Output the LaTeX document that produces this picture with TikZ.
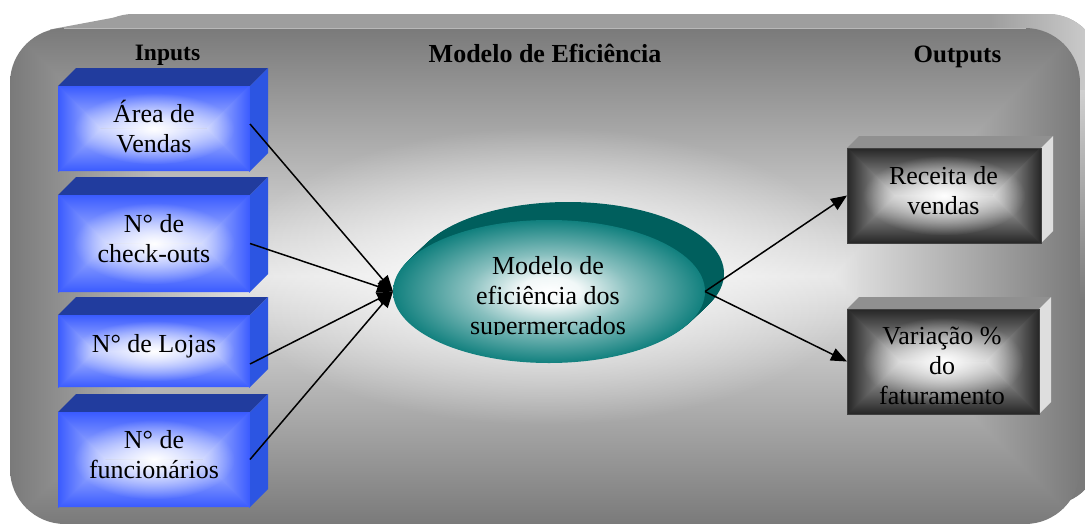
\documentclass[tikz,border=0pt]{standalone}
\usepackage{fontspec}
\setmainfont{Liberation Serif}
\usetikzlibrary{arrows.meta,shapes.geometric,fadings}
\definecolor{frameedge}{HTML}{7A7A7A}
\definecolor{framecenter}{HTML}{E6E6E6}
\definecolor{band}{HTML}{9E9E9E}
\definecolor{bandlight}{HTML}{D0D0D0}
\definecolor{blueedge}{HTML}{3A5BFF}
\definecolor{bluemid}{HTML}{B4C1FF}
\definecolor{bluetop}{HTML}{213C9E}
\definecolor{blueright}{HTML}{2C55E2}
\definecolor{tealedge}{HTML}{11807E}
\definecolor{tealback}{HTML}{005F5D}
\definecolor{grayedge}{HTML}{262626}
\definecolor{graymid}{HTML}{BDBDBD}
\definecolor{graytop}{HTML}{909090}
\definecolor{grayright}{HTML}{DEDEDE}

\tikzfading[name=glowfade, inner color=transparent!0, outer color=transparent!100]
\pgfdeclareradialshading{tealglow}{\pgfpoint{0bp}{0bp}}{color(0bp)=(white); color(5bp)=(white!94!tealedge); color(13bp)=(white!50!tealedge); color(25bp)=(tealedge); color(50bp)=(tealedge)}

% rectangular "path" gradient: edge colour at the border, centre colour on the centre line,
% plus a soft white glow in the middle
\newcommand\rectgrad[8]{%
  \pgfmathsetmacro\rgd{min(#3-#1,#4-#2)/2}%
  \pgfmathsetmacro\rgxa{#1+\rgd}%
  \pgfmathsetmacro\rgxb{#3-\rgd}%
  \pgfmathsetmacro\rgya{#2+\rgd}%
  \pgfmathsetmacro\rgyb{#4-\rgd}%
  \begin{scope}
    \clip (#1,#2) rectangle (#3,#4);
    \shade[top color=#5,bottom color=#6] (#1,#2) -- (#3,#2) -- (\rgxb,\rgya) -- (\rgxa,\rgya) -- cycle;
    \shade[top color=#6,bottom color=#5] (#1,#4) -- (#3,#4) -- (\rgxb,\rgyb) -- (\rgxa,\rgyb) -- cycle;
    \shade[left color=#5,right color=#6] (#1,{#2-1.2}) -- (\rgxa,{\rgya-1.2}) -- (\rgxa,{\rgyb+1.2}) -- (#1,{#4+1.2}) -- cycle;
    \shade[left color=#6,right color=#5] (#3,{#2-1.2}) -- (\rgxb,{\rgya-1.2}) -- (\rgxb,{\rgyb+1.2}) -- (#3,{#4+1.2}) -- cycle;
    \fill[white, path fading=glowfade] ({(#1+#3)/2},{(#2+#4)/2}) ellipse [x radius={(#3-#1)*#7}, y radius={(#4-#2)*#8}];
  \end{scope}}

\newcommand\blueface[4]{%
  \fill[bluetop] (#1,#2) -- ({#1+18},{#2-18}) -- ({#3+18},{#2-18}) -- (#3,#2) -- cycle;
  \fill[blueright] (#3,#2) -- ({#3+18},{#2-18}) -- ({#3+18},{#4-18}) -- (#3,#4) -- cycle;
  \rectgrad{#1}{#2}{#3}{#4}{blueedge}{bluemid}{0.42}{0.42}}

\newcommand\grayface[4]{%
  \fill[graytop] (#1,#2) -- ({#1+12},{#2-12}) -- ({#3+12},{#2-12}) -- (#3,#2) -- cycle;
  \fill[grayright] (#3,#2) -- ({#3+12},{#2-12}) -- ({#3+12},{#4-12}) -- (#3,#4) -- cycle;
  \rectgrad{#1}{#2}{#3}{#4}{grayedge}{graymid}{0.42}{0.42}
  \draw[black!75, line width=0.6pt] (#1,#2) rectangle (#3,#4);}

\begin{document}
\begin{tikzpicture}[x=1pt,y=-1pt,
  txt/.style={font=\fontsize{26}{30}\selectfont, align=center, inner sep=0pt},
  ttl/.style={font=\bfseries\fontsize{#1}{30}\selectfont, inner sep=0pt, anchor=base},
  holder/.style={inner sep=0pt, outer sep=0pt},
  conn/.style={line width=1.5pt, -{Triangle[length=16pt,width=13pt]}}]
\useasboundingbox (0,0) rectangle (1085,523);

% ---- 3D frame: back band
\fill[band, rounded corners=52pt] (81,14) rectangle (1100,505);
\fill[band] (50,29.5) -- (133,14) -- (200,14) -- (200,60) -- (50,60) -- cycle;
\begin{scope}
  \clip[rounded corners=52pt] (81,14) rectangle (1100,505);
  \shade[left color=band, right color=bandlight] (990,14) rectangle (1100,90);
  \shade[top color=bandlight, bottom color=frameedge] (1060,90) rectangle (1100,300);
  \fill[frameedge] (1060,300) rectangle (1100,505);
\end{scope}
% ---- front face
\begin{scope}
  \clip[rounded corners=55pt] (10,28) rectangle (1080,524);
  \rectgrad{10}{28}{1080}{524}{frameedge}{framecenter}{0.3}{0.3}
\end{scope}
\draw[white!72!black, line width=0.8pt] (64,28.4) -- (1026,28.4);

% ---- titles
\node[ttl=23.5] (tin) at (167.5,60) {Inputs};
\node[ttl=26] (tmod) at (545,62.7) {Modelo de Eficiência};
\node[ttl=25] (tout) at (957.5,62.3) {Outputs};

% ---- input boxes
\blueface{58}{86}{250}{171}
\blueface{58}{195}{250}{292}
\blueface{58}{315}{250}{387}
\blueface{58}{412}{250}{507}
\node[holder, minimum width=192pt, minimum height=85pt] (area) at (154,128.5) {};
\node[holder, minimum width=192pt, minimum height=97pt] (checkouts) at (154,243.5) {};
\node[holder, minimum width=192pt, minimum height=72pt] (lojas) at (154,351) {};
\node[holder, minimum width=192pt, minimum height=95pt] (func) at (154,459.5) {};

% ---- central ellipse (extruded)
\foreach \t in {1,0.95,...,0} {
  \fill[tealback] ({549+19*\t},{291.5-18*\t}) ellipse [x radius=156, y radius=71.5];
}
\shade[shading=tealglow] (549,291.5) ellipse [x radius=156, y radius=71.5];
\node[holder, ellipse, minimum width=312pt, minimum height=143pt] (modelo) at (549,291.5) {};

% ---- output boxes
\grayface{847}{148}{1041}{243}
\grayface{847}{309}{1039}{414}
\node[holder, minimum width=194pt, minimum height=95pt] (receita) at (944,195.5) {};
\node[holder, minimum width=192pt, minimum height=105pt] (variacao) at (943,361.5) {};

% ---- connectors
\draw[conn] ([yshift=4.5pt]area.east) -- (modelo.west);
\draw[conn] (checkouts.east) -- (modelo.west);
\draw[conn] ([yshift=-13pt]lojas.east) -- (modelo.west);
\draw[conn] (func.east) -- (modelo.west);
\draw[conn] (modelo.east) -- (receita.west);
\draw[conn] (modelo.east) -- (variacao.west);

% ---- texts
\node[txt] (tarea) at (154,126.5) {Área de\\Vendas};
\node[txt] (tcheck) at (154,238.8) {N° de\\check-outs};
\node[txt, anchor=base] (tlojas) at (154,352.5) {N° de Lojas};
\node[txt] (tfunc) at (154,454.8) {N° de\\funcionários};
\begin{scope}
  \clip (400,200) rectangle (700,334);
  \node[txt] (tmodelo) at (548,298) {Modelo de\\eficiência dos\\supermercados};
\end{scope}
\node[txt] (treceita) at (943.5,190.5) {Receita de\\vendas};
\begin{scope}
  \clip (847,309) rectangle (1039,404.5);
  \node[txt] (tvariacao) at (942,366) {Variação \%\\do\\faturamento};
\end{scope}
\end{tikzpicture}
\end{document}
